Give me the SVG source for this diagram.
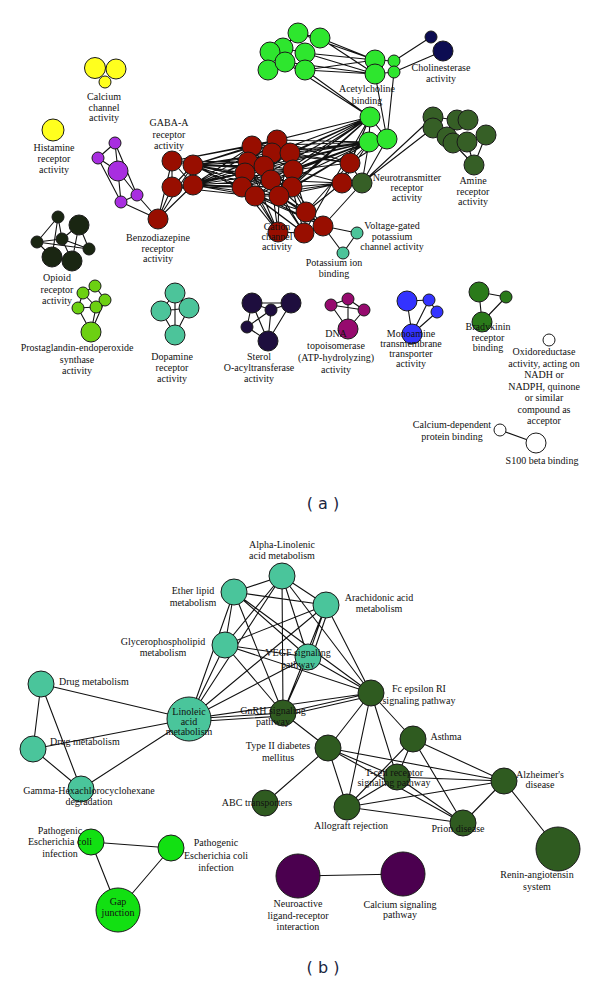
<svg xmlns="http://www.w3.org/2000/svg" width="600" height="984" viewBox="0 0 600 984">
<style>
.e{stroke:#111;stroke-width:1.1;fill:none}
circle{stroke:#1a1a1a;stroke-width:1}
text{font-family:"Liberation Serif","Times New Roman",serif;font-size:10px;fill:#111;text-anchor:middle}
.st{text-anchor:start}
.cap{font-family:"DejaVu Sans",Verdana,sans-serif;font-size:16px;fill:#1a2540}
.red{fill:#980e00}.lg{fill:#2ee62e}.nv{fill:#0c0c52}.dg{fill:#365f26}.ye{fill:#ffff1e}.pu{fill:#a82ee0}
.op{fill:#1a2612}.pg{fill:#6cd012}.tl{fill:#4cc49a}.sr{fill:#1e0e3e}.dn{fill:#960a6e}.bl{fill:#3333ff}.bk{fill:#2a7a1a}.wh{fill:#fff}
.bt{fill:#4ac59b}.bd{fill:#2f5b20}.bg{fill:#12e012}.bp{fill:#4b004f}
</style>
<rect width="600" height="984" fill="#fff"/>
<g id="connectors">
<!-- (a) yellow / purple / gaba -->
<path class="e" d="M115 143L98 158M115 143L118 171M115 143L137 195M98 158L118 171M98 158L121 202M118 171L137 195M118 171L121 202M121 202L137 195M137 195L158 219M121 202L158 219"/>
<path class="e" d="M172 161L193 165M172 161L172 187M172 161L193 185M193 165L172 187M193 165L193 185M172 187L193 185M158 219L172 161M158 219L193 165M158 219L172 187M158 219L193 185"/>
<path class="e" d="M193 165L252 146M193 165L277 140M193 165L272 153M193 165L290 153M193 165L248 162M193 165L264 166M193 165L293 170M193 165L245 173M193 165L271 180M193 165L242 187M193 165L255 196M193 165L279 196M193 165L292 187M193 185L252 146M193 185L277 140M193 185L272 153M193 185L290 153M193 185L248 162M193 185L264 166M193 185L293 170M193 185L245 173M193 185L271 180M193 185L242 187M193 185L255 196M193 185L279 196M193 185L292 187M172 161L252 146M172 161L277 140M172 187L242 187M172 187L255 196M172 161L248 162M172 187L245 173"/>
<path class="e" d="M252 146L277 140M252 146L290 153M252 146L264 166M277 140L248 162M277 140L271 180M272 153L245 173M272 153L255 196M290 153L242 187M290 153L248 162M248 162L293 170M264 166L292 187M293 170L245 173M245 173L279 196M271 180L242 187M242 187L292 187M255 196L279 196M252 146L293 170M277 140L255 196M290 153L279 196"/>
<path class="e" d="M370 117L252 146M370 117L277 140M370 117L272 153M370 117L290 153M370 117L248 162M370 117L264 166M370 117L293 170M370 117L245 173M370 117L271 180M370 117L242 187M370 117L255 196M370 117L279 196M370 117L292 187M369 142L252 146M369 142L277 140M369 142L272 153M369 142L290 153M369 142L248 162M369 142L264 166M369 142L293 170M369 142L245 173M369 142L271 180M369 142L242 187M369 142L255 196M369 142L279 196M369 142L292 187M370 117L350 163M370 117L342 183M369 142L342 183M387 139L350 163M370 117L304 233M369 142L306 212"/>
<path class="e" d="M350 163L277 140M350 163L290 153M350 163L293 170M350 163L272 153M342 183L293 170M342 183L292 187M342 183L279 196M342 183L271 180M342 183L255 196M350 163L342 183M342 183L306 212"/>
<path class="e" d="M278 232L245 173M278 232L242 187M278 232L255 196M278 232L279 196M278 232L271 180M278 232L248 162M304 233L242 187M304 233L255 196M304 233L279 196M304 233L292 187M304 233L264 166M306 212L271 180M306 212L279 196M306 212L292 187M306 212L293 170M306 212L255 196M323 226L255 196M323 226L279 196M323 226L292 187M323 226L242 187M306 212L323 226M323 226L304 233M304 233L278 232M306 212L304 233M323 226L357 233M323 226L343 253M357 233L343 253"/>
<path class="e" d="M362 183L350 163M362 183L342 183M362 183L369 142M362 183L387 139M362 183L433 117M362 183L433 128M362 183L323 226"/>
<!-- (a) green top -->
<path class="e" d="M305 53L375 60M305 53L375 74M305 70L375 60M305 70L375 74M320 38L375 60M320 38L375 74M298 33L375 60M285 62L375 74M305 70L370 117M285 62L370 117M375 74L387 139M394 72L387 139M375 60L394 61M375 74L394 72M375 60L375 74M394 61L394 72M394 61L431 37M394 72L443 51M370 117L369 142M370 117L387 139M369 142L387 139"/>
<path class="e" d="M298 33L320 38M298 33L283 48M283 48L305 53M270 52L285 62M305 53L305 70M268 70L285 62M285 62L305 70"/>
<path class="e" d="M453 143L474 165M467 142L474 165M486 135L474 165M433 117L457 120M447 137L467 142"/>
<!-- (a) small clusters -->
<path class="e" d="M58 217L37 242M58 217L62 239M58 217L52 257M79 225L62 239M79 225L89 249M79 225L72 261M37 242L62 239M37 242L89 249M62 239L89 249M37 242L52 257M62 239L72 261M52 257L72 261"/>
<path class="e" d="M95 286L83 293M95 286L105 300M83 293L78 308M78 308L96 307M96 307L105 300M83 293L96 307M78 308L91 332M96 307L91 332M105 300L91 332"/>
<path class="e" d="M175 293L175 335M161 311L189 308M175 293L161 311M175 293L189 308M161 311L175 335M189 308L175 335"/>
<path class="e" d="M252 303L291 303M252 303L271 310M252 303L247 327M252 303L268 341M291 303L271 310M291 303L268 341M271 310L247 327M247 327L268 341M271 310L268 341"/>
<path class="e" d="M331 305L348 299M331 305L364 310M348 299L364 310M348 299L348 329M331 305L348 329M364 310L348 329"/>
<path class="e" d="M407 301L429 300M407 301L412 334M429 300L412 334M437 312L412 334M429 300L437 312"/>
<path class="e" d="M479 292L506 297M479 292L482 322M506 297L482 322M500 430L536 443"/>
<!-- (b) -->
<path class="e" d="M282 576L234 592M282 576L225 645M282 576L308 657M282 576L326 605M282 576L189 719M282 576L283 713M282 576L371 693M234 592L225 645M234 592L308 657M234 592L326 605M234 592L189 719M234 592L283 713M234 592L371 693M225 645L308 657M225 645L326 605M225 645L189 719M225 645L283 713M225 645L371 693M308 657L326 605M308 657L189 719M308 657L283 713M308 657L371 693M326 605L189 719M326 605L283 713M326 605L371 693M189 719L283 713M189 722L283 716M189 719L371 693M283 713L371 693M283 716L371 696M312 657L330 605"/>
<path class="e" d="M41 684L33 749M41 684L81 789M33 749L81 789M41 684L189 719M33 749L189 719M81 789L189 719"/>
<path class="e" d="M283 713L328 748M371 693L328 748M371 693L413 739M371 693L397 777M371 693L347 807M328 748L265 803M328 748L347 807M328 748L397 777M328 748L504 781M328 748L463 823M413 739L397 777M413 739L347 807M413 739L504 781M413 739L463 823M397 777L347 807M397 777L504 781M397 777L463 823M347 807L504 781M347 807L463 823M463 823L504 781M504 781L558 849"/>
<path class="e" d="M91 842L171 848M91 842L118 910M171 848L118 910M298 876L403 874"/>
</g>
<!-- (a) nodes -->
<g id="calcium-channel"><circle class="ye" cx="95" cy="68" r="10.5"/><circle class="ye" cx="116" cy="69" r="10"/><circle class="ye" cx="105" cy="82" r="6"/><text x="104" y="100">Calcium</text><text x="104" y="111">channel</text><text x="104" y="121">activity</text></g>
<g id="histamine"><circle class="ye" cx="53" cy="130" r="11"/><text x="54" y="151">Histamine</text><text x="54" y="162">receptor</text><text x="54" y="173">activity</text></g>
<g id="purple-cluster"><circle class="pu" cx="115" cy="143" r="6"/><circle class="pu" cx="98" cy="158" r="6"/><circle class="pu" cx="118" cy="171" r="10"/><circle class="pu" cx="137" cy="195" r="6"/><circle class="pu" cx="121" cy="202" r="6"/></g>
<g id="gaba-a"><circle class="red" cx="172" cy="161" r="10"/><circle class="red" cx="193" cy="165" r="10"/><circle class="red" cx="172" cy="187" r="10"/><circle class="red" cx="193" cy="185" r="10"/><text x="169" y="126">GABA-A</text><text x="169" y="138">receptor</text><text x="169" y="149">activity</text></g>
<g id="benzodiazepine"><circle class="red" cx="158" cy="219" r="10"/><text x="158" y="241">Benzodiazepine</text><text x="158" y="252">receptor</text><text x="158" y="262">activity</text></g>
<g id="red-cluster"><circle class="red" cx="252" cy="146" r="10"/><circle class="red" cx="277" cy="140" r="10"/><circle class="red" cx="272" cy="153" r="10"/><circle class="red" cx="290" cy="153" r="10"/><circle class="red" cx="248" cy="162" r="10"/><circle class="red" cx="264" cy="166" r="10"/><circle class="red" cx="293" cy="170" r="10"/><circle class="red" cx="245" cy="173" r="10"/><circle class="red" cx="271" cy="180" r="10"/><circle class="red" cx="242" cy="187" r="10"/><circle class="red" cx="292" cy="187" r="10"/><circle class="red" cx="255" cy="196" r="10"/><circle class="red" cx="279" cy="196" r="10"/><circle class="red" cx="350" cy="163" r="10"/><circle class="red" cx="342" cy="183" r="10"/><circle class="red" cx="306" cy="212" r="10"/><circle class="red" cx="323" cy="226" r="10"/><circle class="red" cx="304" cy="233" r="10"/></g>
<g id="cation-channel"><circle class="red" cx="278" cy="232" r="10"/><text x="277" y="230">Cation</text><text x="277" y="240">channel</text><text x="277" y="250">activity</text></g>
<g id="green-cluster"><circle class="lg" cx="298" cy="33" r="10"/><circle class="lg" cx="320" cy="38" r="10"/><circle class="lg" cx="283" cy="48" r="10"/><circle class="lg" cx="270" cy="52" r="10"/><circle class="lg" cx="268" cy="70" r="10"/><circle class="lg" cx="285" cy="62" r="10"/><circle class="lg" cx="305" cy="53" r="10"/><circle class="lg" cx="305" cy="70" r="10"/></g>
<g id="acetylcholine"><circle class="lg" cx="394" cy="61" r="6"/><circle class="lg" cx="394" cy="72" r="6"/><circle class="lg" cx="375" cy="60" r="10"/><circle class="lg" cx="375" cy="74" r="10"/><text x="367" y="92">Acetylcholine</text><text x="367" y="104">binding</text></g>
<g id="green-lower"><circle class="lg" cx="370" cy="117" r="10"/><circle class="lg" cx="369" cy="142" r="10"/><circle class="lg" cx="387" cy="139" r="10"/></g>
<g id="cholinesterase"><circle class="nv" cx="431" cy="37" r="6"/><circle class="nv" cx="443" cy="51" r="10"/><text x="441" y="71">Cholinesterase</text><text x="441" y="82">activity</text></g>
<g id="neurotransmitter"><circle class="dg" cx="362" cy="183" r="10"/><text x="407" y="181">Neurotransmitter</text><text x="407" y="191">receptor</text><text x="407" y="201">activity</text></g>
<g id="amine"><circle class="dg" cx="433" cy="117" r="10"/><circle class="dg" cx="433" cy="128" r="10"/><circle class="dg" cx="447" cy="137" r="10"/><circle class="dg" cx="453" cy="143" r="10"/><circle class="dg" cx="457" cy="120" r="10"/><circle class="dg" cx="468" cy="120" r="10"/><circle class="dg" cx="467" cy="142" r="10"/><circle class="dg" cx="486" cy="135" r="10"/><circle class="dg" cx="474" cy="165" r="10"/><text x="473" y="184">Amine</text><text x="473" y="195">receptor</text><text x="473" y="205">activity</text></g>
<g id="voltage-gated"><circle class="tl" cx="357" cy="233" r="6"/><text x="392" y="229">Voltage-gated</text><text x="392" y="240">potassium</text><text x="392" y="250">channel activity</text></g>
<g id="potassium-ion"><circle class="tl" cx="343" cy="253" r="6"/><text x="334" y="266">Potassium ion</text><text x="334" y="277">binding</text></g>
<g id="opioid"><circle class="op" cx="58" cy="217" r="6"/><circle class="op" cx="79" cy="225" r="10"/><circle class="op" cx="37" cy="242" r="6"/><circle class="op" cx="62" cy="239" r="6"/><circle class="op" cx="89" cy="249" r="6"/><circle class="op" cx="52" cy="257" r="10"/><circle class="op" cx="72" cy="261" r="10"/><text x="57" y="281">Opioid</text><text x="57" y="293">receptor</text><text x="57" y="304">activity</text></g>
<g id="prostaglandin"><circle class="pg" cx="95" cy="286" r="6"/><circle class="pg" cx="83" cy="293" r="6"/><circle class="pg" cx="105" cy="300" r="6"/><circle class="pg" cx="78" cy="308" r="6"/><circle class="pg" cx="96" cy="307" r="6"/><circle class="pg" cx="91" cy="332" r="10"/><text x="77" y="351">Prostaglandin-endoperoxide</text><text x="77" y="363">synthase</text><text x="77" y="374">activity</text></g>
<g id="dopamine"><circle class="tl" cx="175" cy="293" r="10"/><circle class="tl" cx="161" cy="311" r="10"/><circle class="tl" cx="189" cy="308" r="10"/><circle class="tl" cx="175" cy="335" r="10"/><text x="172" y="360">Dopamine</text><text x="172" y="371">receptor</text><text x="172" y="382">activity</text></g>
<g id="sterol"><circle class="sr" cx="252" cy="303" r="10"/><circle class="sr" cx="291" cy="303" r="10"/><circle class="sr" cx="271" cy="310" r="6"/><circle class="sr" cx="247" cy="327" r="6"/><circle class="sr" cx="268" cy="341" r="10"/><text x="259" y="360">Sterol</text><text x="259" y="371">O-acyltransferase</text><text x="259" y="382">activity</text></g>
<g id="dna-topoisomerase"><circle class="dn" cx="331" cy="305" r="6"/><circle class="dn" cx="348" cy="299" r="6"/><circle class="dn" cx="364" cy="310" r="6"/><circle class="dn" cx="348" cy="329" r="10"/><text x="336" y="337">DNA</text><text x="336" y="349">topoisomerase</text><text x="336" y="361">(ATP-hydrolyzing)</text><text x="336" y="373">activity</text></g>
<g id="monoamine"><circle class="bl" cx="407" cy="301" r="10"/><circle class="bl" cx="429" cy="300" r="6"/><circle class="bl" cx="437" cy="312" r="6"/><circle class="bl" cx="412" cy="334" r="10"/><text x="411" y="337">Monoamine</text><text x="411" y="347">transmembrane</text><text x="411" y="357">transporter</text><text x="411" y="367">activity</text></g>
<g id="bradykinin"><circle class="bk" cx="479" cy="292" r="10"/><circle class="bk" cx="506" cy="297" r="6"/><circle class="bk" cx="482" cy="322" r="10"/><text x="488" y="330">Bradykinin</text><text x="488" y="341">receptor</text><text x="488" y="351">binding</text></g>
<g id="oxidoreductase"><circle class="wh" cx="549" cy="340" r="6"/><text x="544" y="355">Oxidoreductase</text><text x="544" y="367">activity, acting on</text><text x="544" y="378">NADH or</text><text x="544" y="390">NADPH, quinone</text><text x="544" y="401">or similar</text><text x="544" y="413">compound as</text><text x="544" y="424">acceptor</text></g>
<g id="calcium-dependent"><circle class="wh" cx="500" cy="430" r="6"/><text x="452" y="428">Calcium-dependent</text><text x="452" y="440">protein binding</text></g>
<g id="s100"><circle class="wh" cx="536" cy="443" r="10"/><text x="542" y="464">S100 beta binding</text></g>
<text class="cap" x="323" y="509">( a )</text>
<!-- (b) nodes -->
<g id="alpha-linolenic"><circle class="bt" cx="282" cy="576" r="13"/><text x="282" y="548">Alpha-Linolenic</text><text x="282" y="559">acid metabolism</text></g>
<g id="ether-lipid"><circle class="bt" cx="234" cy="592" r="13"/><text x="193" y="594">Ether lipid</text><text x="193" y="606">metabolism</text></g>
<g id="arachidonic"><circle class="bt" cx="326" cy="605" r="13"/><text x="379" y="601">Arachidonic acid</text><text x="379" y="612">metabolism</text></g>
<g id="glycerophospholipid"><circle class="bt" cx="225" cy="645" r="13"/><text x="163" y="645">Glycerophospholipid</text><text x="163" y="656">metabolism</text></g>
<g id="vegf"><circle class="bt" cx="308" cy="657" r="13"/><text x="298" y="656">VEGF signaling</text><text x="298" y="668">pathway</text></g>
<g id="drug1"><circle class="bt" cx="41" cy="684" r="13"/><text class="st" x="59" y="685">Drug metabolism</text></g>
<g id="drug2"><circle class="bt" cx="33" cy="749" r="13"/><text class="st" x="50" y="745">Drug metabolism</text></g>
<g id="gamma-hexachloro"><circle class="bt" cx="81" cy="789" r="13"/><text x="89" y="794">Gamma-Hexachlorocyclohexane</text><text x="89" y="805">degradation</text></g>
<g id="linoleic"><circle class="bt" cx="189" cy="719" r="22"/><text x="189" y="715">Linoleic</text><text x="189" y="725">acid</text><text x="189" y="735">metabolism</text></g>
<g id="gnrh"><circle class="bd" cx="283" cy="713" r="13"/><text x="273" y="714">GnRH signaling</text><text x="273" y="725">pathway</text></g>
<g id="fc-epsilon"><circle class="bd" cx="371" cy="693" r="13"/><text x="419" y="692">Fc epsilon RI</text><text x="419" y="704">signaling pathway</text></g>
<g id="asthma"><circle class="bd" cx="413" cy="739" r="13"/><text x="446" y="740">Asthma</text></g>
<g id="type2"><circle class="bd" cx="328" cy="748" r="13"/><text x="278" y="749">Type II diabetes</text><text x="278" y="761">mellitus</text></g>
<g id="tcell"><circle class="bd" cx="397" cy="777" r="13"/><text x="394" y="776">T-cell receptor</text><text x="394" y="786">signaling pathway</text></g>
<g id="alzheimer"><circle class="bd" cx="504" cy="781" r="13"/><text x="540" y="778">Alzheimer's</text><text x="540" y="788">disease</text></g>
<g id="abc"><circle class="bd" cx="265" cy="803" r="13"/><text x="257" y="806">ABC transporters</text></g>
<g id="allograft"><circle class="bd" cx="347" cy="807" r="13"/><text x="351" y="829">Allograft rejection</text></g>
<g id="prion"><circle class="bd" cx="463" cy="823" r="13"/><text x="458" y="832">Prion disease</text></g>
<g id="renin"><circle class="bd" cx="558" cy="849" r="22"/><text x="537" y="878">Renin-angiotensin</text><text x="537" y="890">system</text></g>
<g id="pathogenic1"><circle class="bg" cx="91" cy="842" r="13"/><text x="60" y="834">Pathogenic</text><text x="60" y="845">Escherichia coli</text><text x="60" y="857">infection</text></g>
<g id="pathogenic2"><circle class="bg" cx="171" cy="848" r="13"/><text x="216" y="846">Pathogenic</text><text x="216" y="859">Escherichia coli</text><text x="216" y="871">infection</text></g>
<g id="gap-junction"><circle class="bg" cx="118" cy="910" r="22"/><text x="118" y="905">Gap</text><text x="118" y="916">junction</text></g>
<g id="neuroactive"><circle class="bp" cx="298" cy="876" r="22"/><text x="298" y="907">Neuroactive</text><text x="298" y="919">ligand-receptor</text><text x="298" y="930">interaction</text></g>
<g id="calcium-signaling"><circle class="bp" cx="403" cy="874" r="22"/><text x="400" y="908">Calcium signaling</text><text x="400" y="918">pathway</text></g>
<text class="cap" x="323" y="973">( b )</text>
</svg>
